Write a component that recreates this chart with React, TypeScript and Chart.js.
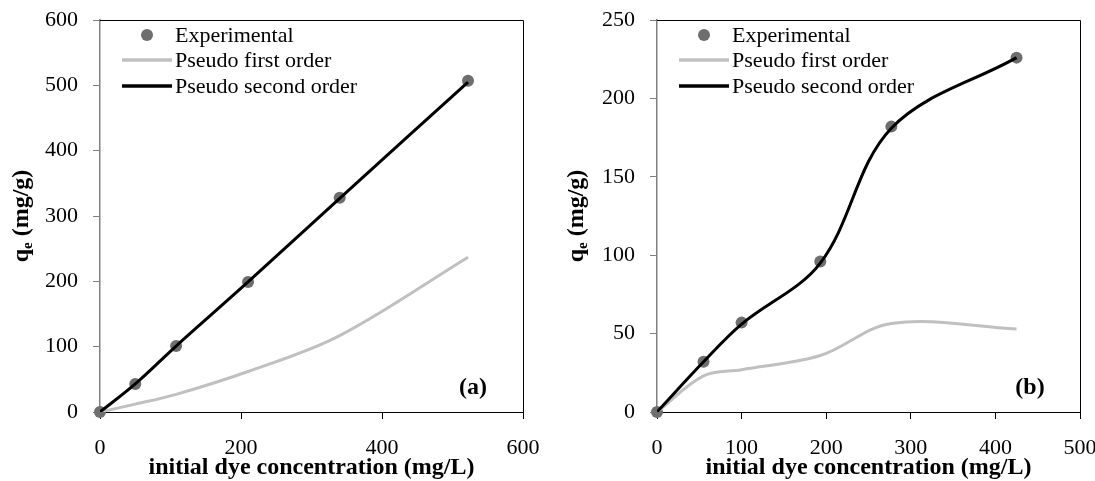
import { useEffect, useRef } from "react";
import { Chart, registerables } from "chart.js";

Chart.register(...registerables);

const FONT = '"Liberation Serif", "Times New Roman", Times, serif';

// ---------- Panel (a) ----------
const concA = [0, 50, 108, 210, 340, 522];
const expA = [0, 43, 101, 199, 328, 507];
const firstA = [0, 12, 27, 62, 117, 237];
const secondA = [0, 43, 101, 199, 327, 505];
const xTicksA = [0, 200, 400, 600];
const yTicksA = [0, 100, 200, 300, 400, 500, 600];

// ---------- Panel (b) ----------
const concB = [0, 55, 100, 193, 277, 425];
const expB = [0, 32, 57, 96, 182, 226];
const firstB = [0, 23, 27, 36, 56.5, 53];
const secondB = [0, 32, 56, 95, 181, 226];
const xTicksB = [0, 100, 200, 300, 400, 500];
const yTicksB = [0, 50, 100, 150, 200, 250];

const seriesLabels = ["Experimental", "Pseudo first order", "Pseudo second order"];
const xTitle = "initial dye concentration (mg/L)";

type PanelProps = {
  left: number;
  width: number;
  conc: number[];
  exp: number[];
  first: number[];
  second: number[];
  xTicks: number[];
  yTicks: number[];
  axisWidth: number;
  rightPad: number;
  yTitleX: number;
  panel: string;
};

function Panel(p: PanelProps) {
  const ref = useRef<HTMLCanvasElement | null>(null);

  useEffect(() => {
    const canvas = ref.current;
    if (!canvas) return;

    const boxPlugin = {
      id: "box",
      beforeDatasetsDraw(chart: any) {
        const { ctx, chartArea: a } = chart;
        ctx.save();
        ctx.strokeStyle = "#000";
        ctx.lineWidth = 1;
        ctx.beginPath();
        ctx.moveTo(a.left, a.top + 0.5);
        ctx.lineTo(a.right + 0.5, a.top + 0.5);
        ctx.lineTo(a.right + 0.5, a.bottom);
        ctx.stroke();
        ctx.restore();
      },
    };

    const overlayPlugin = {
      id: "overlay",
      afterDraw(chart: any) {
        const { ctx, chartArea: a } = chart;
        const ds = chart.data.datasets;
        ctx.save();
        // legend
        const rows = [35, 60, 86];
        ctx.font = `22px ${FONT}`;
        ctx.textBaseline = "middle";
        ctx.textAlign = "left";
        ds.forEach((d: any, i: number) => {
          const y = rows[i];
          if (i === 0) {
            ctx.fillStyle = d.pointBackgroundColor;
            ctx.beginPath();
            ctx.arc(a.left + 47, y, 6, 0, Math.PI * 2);
            ctx.fill();
          } else {
            ctx.strokeStyle = d.borderColor;
            ctx.lineWidth = 3.5;
            ctx.beginPath();
            ctx.moveTo(a.left + 22, y);
            ctx.lineTo(a.left + 72, y);
            ctx.stroke();
          }
          ctx.fillStyle = "#000";
          ctx.fillText(d.label, a.left + 75, y + 1);
        });
        // panel label
        ctx.font = `bold 24px ${FONT}`;
        ctx.textAlign = "center";
        ctx.fillText(p.panel, a.right - 50, 388);
        // y title with subscript
        const big = `bold 24px ${FONT}`;
        const small = `bold 15px ${FONT}`;
        ctx.font = big;
        const wq = ctx.measureText("q").width;
        const wr = ctx.measureText(" (mg/g)").width;
        ctx.font = small;
        const we = ctx.measureText("e").width;
        const total = wq + we + wr;
        const cy = (a.top + a.bottom) / 2;
        ctx.translate(p.yTitleX, cy);
        ctx.rotate(-Math.PI / 2);
        ctx.textAlign = "left";
        ctx.textBaseline = "alphabetic";
        let x0 = -total / 2;
        ctx.font = big;
        ctx.fillText("q", x0, 0);
        x0 += wq;
        ctx.font = small;
        ctx.fillText("e", x0, 4);
        x0 += we;
        ctx.font = big;
        ctx.fillText(" (mg/g)", x0, 0);
        ctx.restore();
      },
    };

    const pts = (ys: number[]) => p.conc.map((x, i) => ({ x, y: ys[i] }));

    const chart = new Chart(canvas, {
      type: "scatter",
      data: {
        datasets: [
          {
            label: seriesLabels[0],
            data: pts(p.exp),
            showLine: false,
            pointRadius: 6,
            pointBorderWidth: 0,
            pointBackgroundColor: "#6e6e6e",
            pointBorderColor: "#6e6e6e",
            clip: false,
            order: 3,
          },
          {
            label: seriesLabels[1],
            data: pts(p.first),
            showLine: true,
            borderColor: "#c0c0c0",
            borderWidth: 3,
            pointRadius: 0,
            tension: 0.35,
            order: 2,
          },
          {
            label: seriesLabels[2],
            data: pts(p.second),
            showLine: true,
            borderColor: "#000000",
            borderWidth: 3,
            pointRadius: 0,
            tension: 0.35,
            order: 1,
          },
        ] as any,
      },
      options: {
        animation: false,
        responsive: false,
        maintainAspectRatio: false,
        layout: { padding: { top: 20, right: p.rightPad, left: 0, bottom: 0 } },
        plugins: { legend: { display: false }, tooltip: { enabled: false } },
        scales: {
          x: {
            type: "linear",
            min: p.xTicks[0],
            max: p.xTicks[p.xTicks.length - 1],
            afterBuildTicks: (s: any) => {
              s.ticks = p.xTicks.map((v) => ({ value: v }));
            },
            afterFit: (s: any) => {
              s.height = 69;
              s.paddingLeft = 0;
              s.paddingRight = 0;
            },
            grid: {
              display: true,
              drawOnChartArea: false,
              drawTicks: true,
              tickLength: 7,
              color: "#000",
              tickColor: "#000",
            },
            border: { display: true, color: "#000", width: 1 },
            ticks: {
              font: { family: FONT, size: 22 },
              color: "#000",
              padding: 16,
              maxRotation: 0,
              autoSkip: false,
            },
            title: {
              display: true,
              text: xTitle,
              color: "#000",
              font: { family: FONT, size: 24, weight: "bold", lineHeight: 1 },
              padding: { top: 0, bottom: 1 },
            },
          },
          y: {
            type: "linear",
            min: p.yTicks[0],
            max: p.yTicks[p.yTicks.length - 1],
            afterBuildTicks: (s: any) => {
              s.ticks = p.yTicks.map((v) => ({ value: v }));
            },
            afterFit: (s: any) => {
              s.width = p.axisWidth;
              s.paddingTop = 0;
              s.paddingBottom = 0;
            },
            grid: {
              display: true,
              drawOnChartArea: false,
              drawTicks: true,
              tickLength: 7,
              color: "#808080",
              tickColor: "#808080",
            },
            border: { display: true, color: "#808080", width: 1.5 },
            ticks: {
              font: { family: FONT, size: 22 },
              color: "#000",
              padding: 15,
              autoSkip: false,
            },
          },
        },
      } as any,
      plugins: [boxPlugin, overlayPlugin],
    });

    return () => chart.destroy();
  }, []);

  return (
    <canvas
      ref={ref}
      width={p.width}
      height={481}
      style={{ position: "absolute", left: p.left, top: 0, width: p.width, height: 481 }}
    />
  );
}

export default function App() {
  return (
    <div
      style={{
        position: "absolute",
        left: 0,
        top: 0,
        width: 1095,
        height: 481,
        background: "#fff",
        overflow: "hidden",
      }}
    >
      <Panel
        left={0}
        width={547}
        conc={concA}
        exp={expA}
        first={firstA}
        second={secondA}
        xTicks={xTicksA}
        yTicks={yTicksA}
        axisWidth={100}
        rightPad={24}
        yTitleX={28}
        panel="(a)"
      />
      <Panel
        left={547}
        width={548}
        conc={concB}
        exp={expB}
        first={firstB}
        second={secondB}
        xTicks={xTicksB}
        yTicks={yTicksB}
        axisWidth={110}
        rightPad={15}
        yTitleX={36}
        panel="(b)"
      />
    </div>
  );
}
